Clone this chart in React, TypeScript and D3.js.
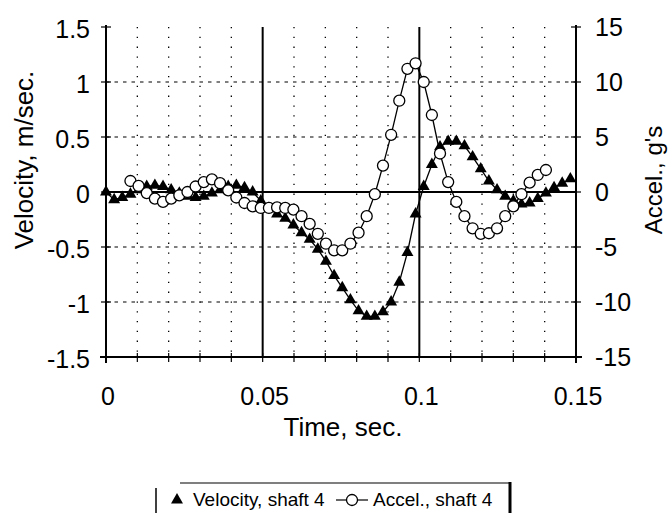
import React from "react";
import * as d3 from "d3";

const time = [
  0, 0.0026, 0.0052, 0.0078, 0.0104, 0.013, 0.0156, 0.0182, 0.0208, 0.0234,
  0.026, 0.0286, 0.0312, 0.0338, 0.0364, 0.039, 0.0416, 0.0442, 0.0468, 0.0494,
  0.052, 0.0546, 0.0572, 0.0598, 0.0624, 0.065, 0.0676, 0.0702, 0.0728, 0.0754,
  0.078, 0.0806, 0.0832, 0.0858, 0.0884, 0.091, 0.0936, 0.0962, 0.0988, 0.1014,
  0.104, 0.1066, 0.1092, 0.1118, 0.1144, 0.117, 0.1196, 0.1222, 0.1248, 0.1274,
  0.13, 0.1326, 0.1352, 0.1378, 0.1404, 0.143, 0.1456, 0.1482,
];

const velocity = [
  0, -0.07, -0.05, -0.02, 0.02, 0.05, 0.06, 0.05, 0.02, -0.01,
  -0.04, -0.05, -0.04, -0.01, 0.02, 0.05, 0.06, 0.04, 0.0, -0.08,
  -0.15, -0.2, -0.24, -0.3, -0.37, -0.43, -0.52, -0.63, -0.76, -0.87,
  -0.98, -1.08, -1.13, -1.13, -1.09, -1.0, -0.82, -0.55, -0.2, 0.05,
  0.25, 0.41, 0.46, 0.46, 0.42, 0.32, 0.21, 0.1, 0.02, -0.04,
  -0.08, -0.11, -0.1, -0.06, -0.01, 0.04, 0.08, 0.12,
];

const accel: (number | null)[] = [
  null, null, null, 1.0, 0.55, -0.1, -0.6, -0.9, -0.6, -0.3,
  0.0, 0.5, 0.9, 1.15, 0.8, 0.15, -0.5, -1.0, -1.3, -1.45,
  -1.45, -1.4, -1.45, -1.6, -2.2, -2.9, -3.8, -4.7, -5.3, -5.3,
  -4.7, -3.7, -2.2, -0.2, 2.4, 5.2, 8.3, 11.2, 11.7, 10.0,
  7.0, 3.5, 0.9, -0.9, -2.2, -3.3, -3.8, -3.75, -3.3, -2.2,
  -1.3, -0.2, 0.85, 1.55, 2.0, null, null, null,
];

const xTicks = [0, 0.05, 0.1, 0.15];
const xTickLabels = ["0", "0.05", "0.1", "0.15"];
const xMinor = [0.01, 0.02, 0.03, 0.04, 0.06, 0.07, 0.08, 0.09, 0.11, 0.12, 0.13, 0.14];
const yLeftTicks = [-1.5, -1, -0.5, 0, 0.5, 1, 1.5];
const yRightTicks = [-15, -10, -5, 0, 5, 10, 15];

const seriesNames = ["Velocity, shaft 4", "Accel., shaft 4"];

const FONT = "'Liberation Sans', Arial, Helvetica, sans-serif";

export default function App() {
  const W = 670;
  const H = 514;
  const left = 106;
  const right = 576;
  const top = 27;
  const bottom = 357;

  const x = d3.scaleLinear().domain([0, 0.15]).range([left, right]);
  const yL = d3.scaleLinear().domain([-1.5, 1.5]).range([bottom, top]);
  const yR = d3.scaleLinear().domain([-15, 15]).range([bottom, top]);

  const velPts = time.map((t, i) => ({ t, v: velocity[i] }));
  const accPts = time
    .map((t, i) => ({ t, v: accel[i] }))
    .filter((d) => d.v !== null) as { t: number; v: number }[];

  const velLine = d3
    .line<{ t: number; v: number }>()
    .x((d) => x(d.t))
    .y((d) => yL(d.v))(velPts) as string;
  const accLine = d3
    .line<{ t: number; v: number }>()
    .x((d) => x(d.t))
    .y((d) => yR(d.v))(accPts) as string;

  const tri = d3.symbol().type(d3.symbolTriangle).size(62)() as string;

  const legY = 500;

  return (
    <svg
      width={W}
      height={H}
      style={{ position: "absolute", left: 0, top: 0, background: "#fff" }}
      fontFamily={FONT}
    >
      <rect x={0} y={0} width={W} height={H} fill="#fff" />
      {/* minor vertical dotted grid */}
      {xMinor.map((t) => (
        <line
          key={"vx" + t}
          x1={x(t)}
          x2={x(t)}
          y1={top}
          y2={bottom}
          stroke="#000"
          strokeWidth={1.3}
          strokeDasharray="1.3 8.5"
        />
      ))}
      {/* horizontal dashed grid */}
      {yLeftTicks
        .filter((v) => v !== 0 && v !== -1.5 && v !== 1.5)
        .map((v) => (
          <line
            key={"hy" + v}
            x1={left}
            x2={right}
            y1={yL(v)}
            y2={yL(v)}
            stroke="#000"
            strokeWidth={1.2}
            strokeDasharray="3.5 5"
          />
        ))}
      {/* major vertical lines */}
      {[0.05, 0.1].map((t) => (
        <line key={"mx" + t} x1={x(t)} x2={x(t)} y1={top} y2={bottom} stroke="#000" strokeWidth={2} />
      ))}
      {/* zero line */}
      <line x1={left} x2={right} y1={yL(0)} y2={yL(0)} stroke="#000" strokeWidth={2} />
      {/* axes */}
      <line x1={left} x2={left} y1={top - 2} y2={bottom + 6} stroke="#000" strokeWidth={2} />
      <line x1={right} x2={right} y1={top - 2} y2={bottom + 6} stroke="#000" strokeWidth={2} />
      <line x1={left - 6} x2={right + 6} y1={bottom} y2={bottom} stroke="#000" strokeWidth={2} />
      {/* ticks */}
      {yLeftTicks.map((v) => (
        <line key={"lt" + v} x1={left - 5} x2={left + 5} y1={yL(v)} y2={yL(v)} stroke="#000" strokeWidth={1.2} />
      ))}
      {yRightTicks.map((v) => (
        <line key={"rt" + v} x1={right - 5} x2={right + 5} y1={yR(v)} y2={yR(v)} stroke="#000" strokeWidth={1.2} />
      ))}
      {[...xTicks, ...xMinor].map((t) => (
        <line key={"xt" + t} x1={x(t)} x2={x(t)} y1={bottom - 4} y2={bottom + 5} stroke="#000" strokeWidth={1.2} />
      ))}
      {/* tick labels */}
      {yLeftTicks.map((v) => (
        <text key={"ll" + v} x={left - 16} y={yL(v) + 2} dy="0.35em" textAnchor="end" fontSize={25}>
          {String(v)}
        </text>
      ))}
      {yRightTicks.map((v) => (
        <text key={"rl" + v} x={right + 19} y={yR(v)} dy="0.35em" textAnchor="start" fontSize={25}>
          {String(v)}
        </text>
      ))}
      {xTicks.map((t, i) => (
        <text key={"xl" + t} x={x(t) + 2} y={bottom + 48} textAnchor="middle" fontSize={25}>
          {xTickLabels[i]}
        </text>
      ))}
      {/* axis titles */}
      <text x={343} y={436} textAnchor="middle" fontSize={26}>
        Time, sec.
      </text>
      <text transform="translate(33, 160) rotate(-90)" textAnchor="middle" fontSize={26}>
        Velocity, m/sec.
      </text>
      <text transform="translate(662, 180) rotate(-90)" textAnchor="middle" fontSize={24}>
        Accel., g's
      </text>
      {/* series */}
      <path d={velLine} fill="none" stroke="#000" strokeWidth={1.3} />
      <path d={accLine} fill="none" stroke="#000" strokeWidth={1.3} />
      {velPts.map((d, i) => (
        <path key={"vp" + i} d={tri} transform={`translate(${x(d.t)},${yL(d.v)})`} fill="#000" />
      ))}
      {accPts.map((d, i) => (
        <circle key={"ap" + i} cx={x(d.t)} cy={yR(d.v)} r={5.5} fill="#fff" stroke="#000" strokeWidth={1.3} />
      ))}
      {/* legend */}
      <g>
        <line x1={180} x2={510} y1={483} y2={483} stroke="#000" strokeWidth={1.2} />
        <line x1={156} x2={156} y1={488} y2={513} stroke="#000" strokeWidth={1.5} />
        <line x1={510} x2={510} y1={482} y2={513} stroke="#000" strokeWidth={3} />
        <path d={tri} transform={`translate(177,${legY})`} fill="#000" />
        <text x={193} y={legY + 6} fontSize={19}>
          {seriesNames[0]}
        </text>
        <line x1={336} x2={368} y1={legY} y2={legY} stroke="#000" strokeWidth={1.2} />
        <circle cx={352} cy={legY} r={5.5} fill="#fff" stroke="#000" strokeWidth={1.3} />
        <text x={373} y={legY + 6} fontSize={19}>
          {seriesNames[1]}
        </text>
      </g>
    </svg>
  );
}
